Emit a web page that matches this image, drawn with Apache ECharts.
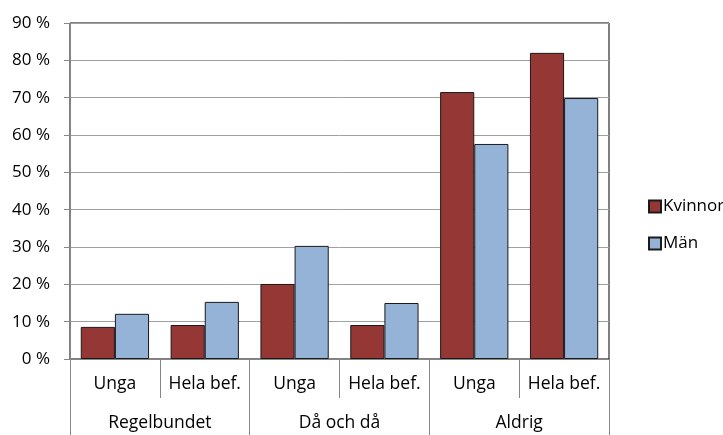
<!DOCTYPE html>
<html><head><meta charset="utf-8">
<script src="https://cdn.jsdelivr.net/npm/echarts@6/dist/echarts.min.js"></script>
<style>html,body{margin:0;padding:0;background:#fff}#c{width:723px;height:435px}</style>
</head><body><div id="c"></div>
<script>
const subCategories = ['Unga', 'Hela bef.', 'Unga', 'Hela bef.', 'Unga', 'Hela bef.'];
const groups = ['Regelbundet', 'Då och då', 'Aldrig'];
const kvinnor = [8.6, 9.1, 20.1, 9.1, 71.5, 82.0];
const man = [12.1, 15.3, 30.3, 15.0, 57.6, 69.9];
const seriesNames = ['Kvinnor', 'Män'];

const font = '"Open Sans", "Noto Sans", sans-serif';
const chart = echarts.init(document.getElementById('c'), null, {renderer: 'canvas'});
chart.setOption({
  animation: false,
  textStyle: {fontFamily: font},
  grid: {left: 70, right: 114, top: 23, bottom: 76, show: true, borderColor: '#000', borderWidth: 1, backgroundColor: 'transparent'},
  legend: {
    orient: 'vertical', left: 643, top: 193, itemGap: 20, itemWidth: 12, itemHeight: 12, icon: 'rect',
    textStyle: {fontSize: 17, color: '#000', fontFamily: font, padding: [0, 0, 0, -3]},
    data: seriesNames
  },
  xAxis: [
    {
      type: 'category', data: subCategories, position: 'bottom',
      axisLine: {lineStyle: {color: '#868686', width: 1}},
      axisTick: {show: true, interval: 0, length: 39, lineStyle: {color: '#868686'}},
      axisLabel: {margin: 16, fontSize: 17.5, color: '#000', fontFamily: font, interval: 0}
    },
    {
      type: 'category', data: groups, position: 'bottom',
      axisLine: {show: false},
      axisTick: {show: true, interval: 0, length: 80, lineStyle: {color: '#868686'}},
      axisLabel: {margin: 55, fontSize: 17.5, color: '#000', fontFamily: font, interval: 0}
    }
  ],
  yAxis: {
    type: 'value', min: 0, max: 90, interval: 10,
    axisLine: {show: true, lineStyle: {color: '#868686'}},
    axisTick: {show: true, length: 6, lineStyle: {color: '#868686'}},
    axisLabel: {formatter: '{value} %', margin: 20, fontSize: 17, color: '#000', fontFamily: font},
    splitLine: {lineStyle: {color: '#a0a0a0', width: 1}}
  },
  series: [
    {name: seriesNames[0], type: 'bar', data: kvinnor, barGap: '0%', barCategoryGap: '24%',
     itemStyle: {color: '#953735', borderColor: '#1a1a1a', borderWidth: 1}},
    {name: seriesNames[1], type: 'bar', data: man,
     itemStyle: {color: '#95B3D7', borderColor: '#1a1a1a', borderWidth: 1}}
  ]
});
</script></body></html>
